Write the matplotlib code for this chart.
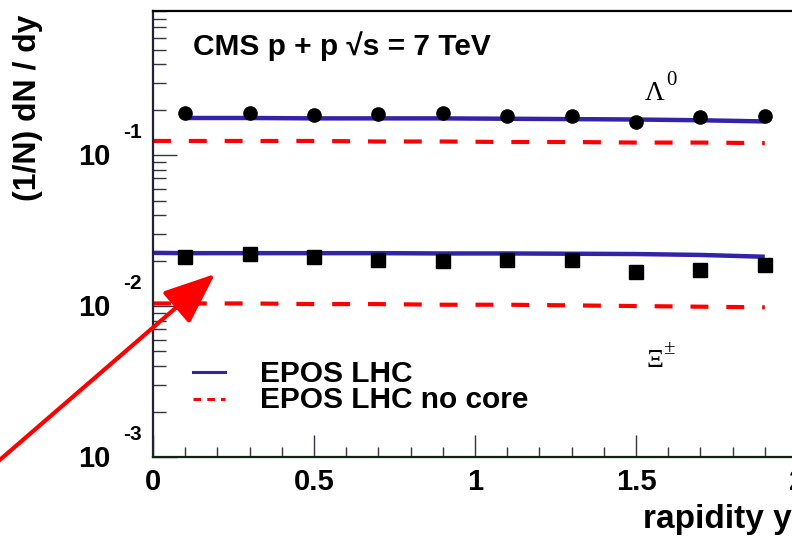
import matplotlib
matplotlib.use("Agg")
import matplotlib.pyplot as plt
import matplotlib.ticker as ticker
import matplotlib.transforms as mtransforms
import numpy as np

# measured points (CMS, pp 7 TeV)
rap = [0.1, 0.3, 0.5, 0.7, 0.9, 1.1, 1.3, 1.5, 1.7, 1.9]
lambda_data = [0.190, 0.190, 0.184, 0.187, 0.190, 0.181, 0.181, 0.165, 0.178, 0.181]
xi_data = [0.0211, 0.0221, 0.0211, 0.0202, 0.0199, 0.0202, 0.0202, 0.0168, 0.0173, 0.0187]

# EPOS LHC curves
model_rap = [0.0, 0.1, 0.3, 0.5, 0.7, 0.9, 1.1, 1.3, 1.5, 1.7, 1.9]
epos_lambda = [0.176, 0.176, 0.176, 0.175, 0.175, 0.175, 0.174, 0.173, 0.172, 0.170, 0.167]
epos_lambda_nocore = [0.124, 0.124, 0.124, 0.124, 0.123, 0.123, 0.122, 0.122, 0.121, 0.121, 0.120]
epos_xi = [0.0225, 0.0224, 0.0224, 0.0224, 0.0224, 0.0223, 0.0223, 0.0222, 0.0221, 0.0218, 0.0212]
epos_xi_nocore = [0.0104, 0.0104, 0.0104, 0.0103, 0.0103, 0.0102, 0.0102, 0.0101, 0.0100, 0.0099, 0.0098]

x_ticks = [0, 0.5, 1, 1.5, 2]
x_ticklabels = ["0", "0.5", "1", "1.5", "2"]
y_ticks = [1e-3, 1e-2, 1e-1]
y_exponents = ["-3", "-2", "-1"]

blue = "#3322aa"
red = "#ff0000"
sans = "Liberation Sans"
serif = "Liberation Serif"

W, H = 792, 539
fig = plt.figure(figsize=(W / 100, H / 100), dpi=100)
# axes run past the right edge, like the cropped original
ax = fig.add_axes([153 / W, 1 - 457 / H, (797 - 153) / W, (457 - 11) / H])

ax.plot(model_rap[1:], epos_lambda[1:], color=blue, lw=3.2, solid_capstyle="butt")
ax.plot(model_rap, epos_xi, color=blue, lw=3.2, solid_capstyle="butt")
ax.plot(model_rap, epos_lambda_nocore, color=red, lw=3.0, linestyle=(0, (4.3, 4.3)))
ax.plot(model_rap, epos_xi_nocore, color=red, lw=3.0, linestyle=(0, (4.3, 4.3)))

ax.plot(rap, lambda_data, "o", color="black", markersize=9.5, zorder=5)
ax.plot(rap, xi_data, "s", color="black", markersize=10, zorder=5)

ax.set_yscale("log")
ax.set_xlim(0, 2)
ax.set_ylim(1e-3, 0.9)

ax.xaxis.set_major_locator(ticker.FixedLocator(x_ticks))
ax.xaxis.set_minor_locator(ticker.MultipleLocator(0.1))
ax.set_xticklabels(x_ticklabels, fontsize=21, fontweight="bold", family=sans)
ax.yaxis.set_major_locator(ticker.FixedLocator(y_ticks))
ax.yaxis.set_minor_locator(ticker.LogLocator(base=10, subs=np.arange(2, 10)))
ax.yaxis.set_minor_formatter(ticker.NullFormatter())
ax.set_yticklabels([])

tick_col = "#333344"
ax.tick_params(axis="x", which="major", direction="in", length=16, width=1, color=tick_col, pad=8)
ax.tick_params(axis="x", which="minor", direction="in", length=7.5, width=1, color=tick_col)
ax.tick_params(axis="y", which="major", direction="in", length=17, width=1, color=tick_col)
ax.tick_params(axis="y", which="minor", direction="in", length=9, width=1, color=tick_col)

for side in ["left", "bottom", "top"]:
    ax.spines[side].set_linewidth(1.6)
ax.spines["top"].set_color("black")
ax.spines["left"].set_color("#222233")
ax.spines["bottom"].set_color("#112211")
ax.spines["right"].set_visible(False)

# ROOT style exponent labels
ytrans = mtransforms.blended_transform_factory(fig.transFigure, ax.transData)
down = mtransforms.ScaledTranslation(0, -10 / 100, fig.dpi_scale_trans)
up = mtransforms.ScaledTranslation(0, 17 / 100, fig.dpi_scale_trans)
for yt, ex in zip(y_ticks, y_exponents):
    ax.text(110 / W, yt, "10", transform=ytrans + down, ha="right", va="baseline",
            fontsize=21, fontweight="bold", family=sans)
    ax.text(123 / W, yt, ex, transform=ytrans + up, ha="left", va="baseline",
            fontsize=15, fontweight="bold", family=sans)

fig.text(193 / W, 1 - 55 / H, "CMS p + p \u221as = 7 TeV", ha="left", va="baseline",
         fontsize=21.5, fontweight="bold", family=sans)

fig.text(645 / W, 1 - 100 / H, "\u039b", ha="left", va="baseline", fontsize=19.5, family=serif)
fig.text(666 / W, 1 - 85 / H, "0", ha="left", va="baseline", fontsize=15, family=serif)
fig.text(647 / W, 1 - 367 / H, "\u039e", ha="left", va="baseline", fontsize=19, family=serif)
fig.text(663 / W, 1 - 354 / H, "\u00b1", ha="left", va="baseline", fontsize=15, family=serif)

# legend drawn by hand like the ROOT TLegend
leg_x = [193 / W, 225 / W]
fig.add_artist(plt.Line2D(leg_x, [1 - 372 / H] * 2, color=blue, lw=2.2))
fig.add_artist(plt.Line2D(leg_x, [1 - 399 / H] * 2, color=red, lw=2.2, linestyle=(0, (2.5, 2.0))))
fig.text(260 / W, 1 - 382 / H, "EPOS LHC", ha="left", va="baseline",
         fontsize=21.5, fontweight="bold", family=sans)
fig.text(260 / W, 1 - 408 / H, "EPOS LHC no core", ha="left", va="baseline",
         fontsize=21.5, fontweight="bold", family=sans)

fig.text(28 / W, 1 - 108 / H, "(1/N) dN / dy", rotation=90, ha="center", va="center",
         fontsize=23, fontweight="bold", family=sans)
fig.text(643 / W, 1 - 528 / H, "rapidity y", ha="left", va="baseline",
         fontsize=24, fontweight="bold", family=sans)

ax.annotate("", xy=(215, H - 274), xycoords="figure pixels",
            xytext=(-20, H - 477), textcoords="figure pixels",
            arrowprops=dict(arrowstyle="-|>,head_length=3.2,head_width=1.3",
                            mutation_scale=10, color=red, lw=3,
                            shrinkA=0, shrinkB=0),
            annotation_clip=False)

fig.savefig("out.png", dpi=100)
